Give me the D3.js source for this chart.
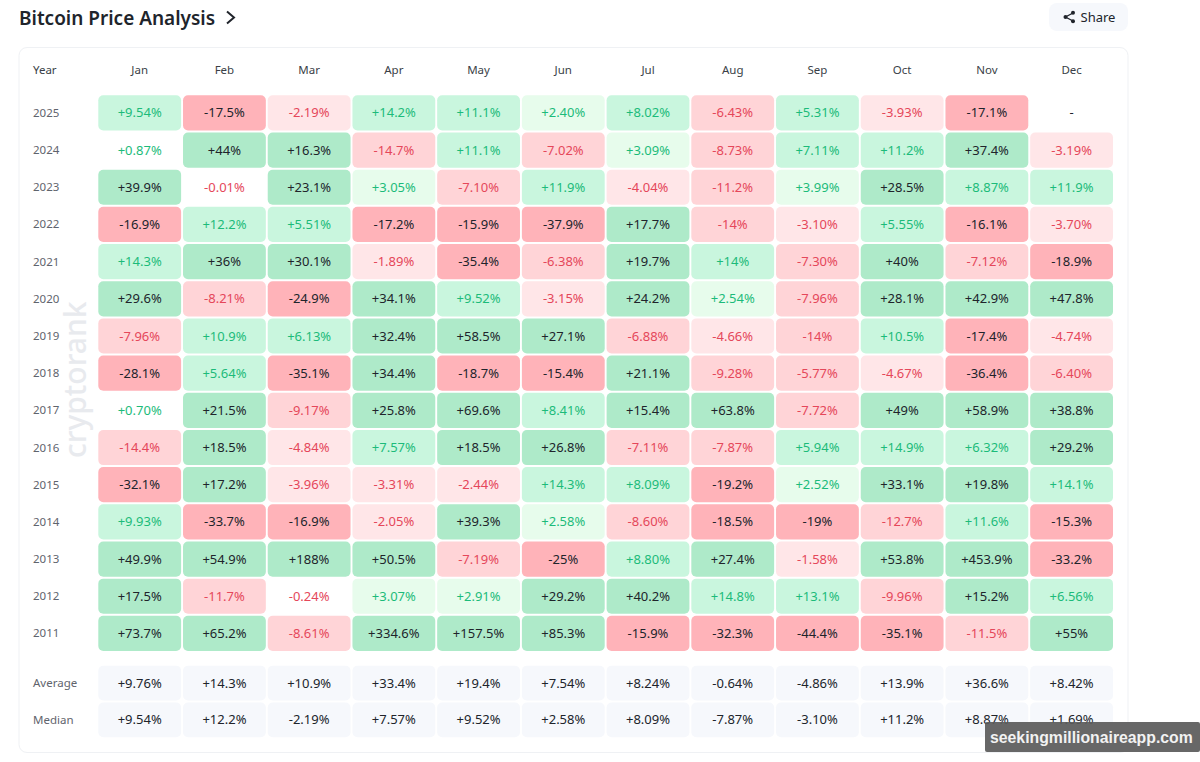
<!DOCTYPE html>
<html>
<head>
<meta charset="utf-8">
<script src="https://cdn.jsdelivr.net/npm/d3@7/dist/d3.min.js"></script>
<style>
html, body { margin: 0; padding: 0; background: #fff; overflow: hidden; }
svg { display: block; font-family: "Noto Sans", sans-serif; }
</style>
</head>
<body>
<svg id="chart" width="1200" height="762"></svg>
<script>
const months = ["Jan", "Feb", "Mar", "Apr", "May", "Jun", "Jul", "Aug", "Sep", "Oct", "Nov", "Dec"];
const years = ["2025", "2024", "2023", "2022", "2021", "2020", "2019", "2018", "2017", "2016", "2015", "2014", "2013", "2012", "2011"];
const summaryNames = ["Average", "Median"];

const y2025 = ["+9.54", "-17.5", "-2.19", "+14.2", "+11.1", "+2.40", "+8.02", "-6.43", "+5.31", "-3.93", "-17.1", null];
const y2024 = ["+0.87", "+44", "+16.3", "-14.7", "+11.1", "-7.02", "+3.09", "-8.73", "+7.11", "+11.2", "+37.4", "-3.19"];
const y2023 = ["+39.9", "-0.01", "+23.1", "+3.05", "-7.10", "+11.9", "-4.04", "-11.2", "+3.99", "+28.5", "+8.87", "+11.9"];
const y2022 = ["-16.9", "+12.2", "+5.51", "-17.2", "-15.9", "-37.9", "+17.7", "-14", "-3.10", "+5.55", "-16.1", "-3.70"];
const y2021 = ["+14.3", "+36", "+30.1", "-1.89", "-35.4", "-6.38", "+19.7", "+14", "-7.30", "+40", "-7.12", "-18.9"];
const y2020 = ["+29.6", "-8.21", "-24.9", "+34.1", "+9.52", "-3.15", "+24.2", "+2.54", "-7.96", "+28.1", "+42.9", "+47.8"];
const y2019 = ["-7.96", "+10.9", "+6.13", "+32.4", "+58.5", "+27.1", "-6.88", "-4.66", "-14", "+10.5", "-17.4", "-4.74"];
const y2018 = ["-28.1", "+5.64", "-35.1", "+34.4", "-18.7", "-15.4", "+21.1", "-9.28", "-5.77", "-4.67", "-36.4", "-6.40"];
const y2017 = ["+0.70", "+21.5", "-9.17", "+25.8", "+69.6", "+8.41", "+15.4", "+63.8", "-7.72", "+49", "+58.9", "+38.8"];
const y2016 = ["-14.4", "+18.5", "-4.84", "+7.57", "+18.5", "+26.8", "-7.11", "-7.87", "+5.94", "+14.9", "+6.32", "+29.2"];
const y2015 = ["-32.1", "+17.2", "-3.96", "-3.31", "-2.44", "+14.3", "+8.09", "-19.2", "+2.52", "+33.1", "+19.8", "+14.1"];
const y2014 = ["+9.93", "-33.7", "-16.9", "-2.05", "+39.3", "+2.58", "-8.60", "-18.5", "-19", "-12.7", "+11.6", "-15.3"];
const y2013 = ["+49.9", "+54.9", "+188", "+50.5", "-7.19", "-25", "+8.80", "+27.4", "-1.58", "+53.8", "+453.9", "-33.2"];
const y2012 = ["+17.5", "-11.7", "-0.24", "+3.07", "+2.91", "+29.2", "+40.2", "+14.8", "+13.1", "-9.96", "+15.2", "+6.56"];
const y2011 = ["+73.7", "+65.2", "-8.61", "+334.6", "+157.5", "+85.3", "-15.9", "-32.3", "-44.4", "-35.1", "-11.5", "+55"];
const average = ["+9.76", "+14.3", "+10.9", "+33.4", "+19.4", "+7.54", "+8.24", "-0.64", "-4.86", "+13.9", "+36.6", "+8.42"];
const median = ["+9.54", "+12.2", "-2.19", "+7.57", "+9.52", "+2.58", "+8.09", "-7.87", "-3.10", "+11.2", "+8.87", "+1.69"];

const rows = [y2025, y2024, y2023, y2022, y2021, y2020, y2019, y2018, y2017, y2016, y2015, y2014, y2013, y2012, y2011];
const summaries = [average, median];

const svg = d3.select("#chart");

const x_scale = d3.scaleBand().domain(months).range([98.3, 1113]).paddingInner(0.0224);
const y_scale = d3.scaleBand().domain(years).range([95.3, 651]).paddingInner(0.054);
const y_summary = d3.scaleBand().domain(summaryNames).range([665.7, 737.3]).paddingInner(0.054);

const thresholds = [-15, -5, -1, 1, 5, 15];
const fill_scale = d3.scaleThreshold().domain(thresholds)
    .range(["#ffb3b9", "#ffd4d7", "#ffe6e8", "#ffffff", "#e7fcec", "#c9f6de", "#aeeac9"]);
const text_scale = d3.scaleThreshold().domain([-15, 0, 15])
    .range(["#20242b", "#e5475a", "#1cbb7a", "#20242b"]);

// title and share button
svg.append("text").attr("x", 19).attr("y", 24.5)
    .attr("font-size", 19).attr("font-weight", 600).attr("fill", "#20242b")
    .text("Bitcoin Price Analysis");
svg.append("path").attr("d", "M227 11.5 L234 17.5 L227 23.5")
    .attr("fill", "none").attr("stroke", "#20242b").attr("stroke-width", 2);

svg.append("rect").attr("x", 1049).attr("y", 3).attr("width", 79).attr("height", 28).attr("rx", 8)
    .attr("fill", "#f6f8fc");
const share = svg.append("g").attr("stroke", "#20242b").attr("fill", "#20242b");
share.append("path").attr("d", "M1073 13 L1065.5 17 L1073 21").attr("fill", "none").attr("stroke-width", 1.3);
[[1073, 12.7], [1065.5, 17], [1073, 21.3]].forEach(function(p) {
    share.append("circle").attr("cx", p[0]).attr("cy", p[1]).attr("r", 2).attr("stroke", "none");
});
svg.append("text").attr("x", 1080.5).attr("y", 22)
    .attr("font-size", 13).attr("fill", "#20242b").text("Share");

// panel
svg.append("rect").attr("x", 19).attr("y", 47.5).attr("width", 1109).attr("height", 705).attr("rx", 8)
    .attr("fill", "#fff").attr("stroke", "#eff1f4");

// header
svg.append("text").attr("x", 33).attr("y", 74).attr("font-size", 11.5).attr("fill", "#3a3f47").text("Year");
svg.selectAll(".month").data(months).enter().append("text")
    .attr("class", "month")
    .attr("x", function(d) { return x_scale(d) + x_scale.bandwidth() / 2; })
    .attr("y", 74)
    .attr("text-anchor", "middle").attr("font-size", 11.5).attr("fill", "#3a3f47")
    .text(function(d) { return d; });

// watermark
svg.append("text").attr("transform", "translate(86,458) rotate(-90)")
    .attr("font-size", 30).attr("font-weight", 500).attr("fill", "#e8eaee").text("cryptorank");

// year rows
const rowGroups = svg.selectAll(".row").data(rows).enter().append("g")
    .attr("class", "row")
    .attr("transform", function(d, i) { return "translate(0," + y_scale(years[i]) + ")"; });

rowGroups.append("text")
    .attr("x", 33).attr("y", y_scale.bandwidth() / 2 + 4)
    .attr("font-size", 11.5).attr("fill", "#5f646d")
    .text(function(d, i) { return years[i]; });

rowGroups.selectAll("rect").data(function(d) { return d; }).enter().append("rect")
    .attr("x", function(d, i) { return x_scale(months[i]); })
    .attr("width", x_scale.bandwidth())
    .attr("height", y_scale.bandwidth())
    .attr("rx", 5)
    .attr("fill", function(d) { return d === null ? "#ffffff" : fill_scale(+d); });

rowGroups.selectAll(".val").data(function(d) { return d; }).enter().append("text")
    .attr("class", "val")
    .attr("x", function(d, i) { return x_scale(months[i]) + x_scale.bandwidth() / 2; })
    .attr("y", y_scale.bandwidth() / 2 + 4.6)
    .attr("text-anchor", "middle").attr("font-size", 13)
    .attr("fill", function(d) { return d === null ? "#20242b" : text_scale(+d); })
    .text(function(d) { return d === null ? "-" : d + "%"; });

// average and median
const sumGroups = svg.selectAll(".sum").data(summaries).enter().append("g")
    .attr("class", "sum")
    .attr("transform", function(d, i) { return "translate(0," + y_summary(summaryNames[i]) + ")"; });

sumGroups.append("text")
    .attr("x", 33).attr("y", y_summary.bandwidth() / 2 + 4)
    .attr("font-size", 11.5).attr("fill", "#5f646d")
    .text(function(d, i) { return summaryNames[i]; });

sumGroups.selectAll("rect").data(function(d) { return d; }).enter().append("rect")
    .attr("x", function(d, i) { return x_scale(months[i]); })
    .attr("width", x_scale.bandwidth())
    .attr("height", y_summary.bandwidth())
    .attr("rx", 5)
    .attr("fill", "#f6f8fc");

sumGroups.selectAll(".val").data(function(d) { return d; }).enter().append("text")
    .attr("class", "val")
    .attr("x", function(d, i) { return x_scale(months[i]) + x_scale.bandwidth() / 2; })
    .attr("y", y_summary.bandwidth() / 2 + 4.6)
    .attr("text-anchor", "middle").attr("font-size", 13).attr("fill", "#20242b")
    .text(function(d) { return d + "%"; });

// site stamp, bottom right
svg.append("rect").attr("x", 985).attr("y", 722).attr("width", 215).attr("height", 30).attr("rx", 2)
    .attr("fill", "#5a5a5a").attr("fill-opacity", 0.92);
svg.append("text").attr("x", 990).attr("y", 743)
    .attr("font-family", "'Liberation Sans', sans-serif").attr("font-weight", 700)
    .attr("font-size", 15.8).attr("fill", "#f2f2f2").text("seekingmillionaireapp.com");
</script>
</body>
</html>
